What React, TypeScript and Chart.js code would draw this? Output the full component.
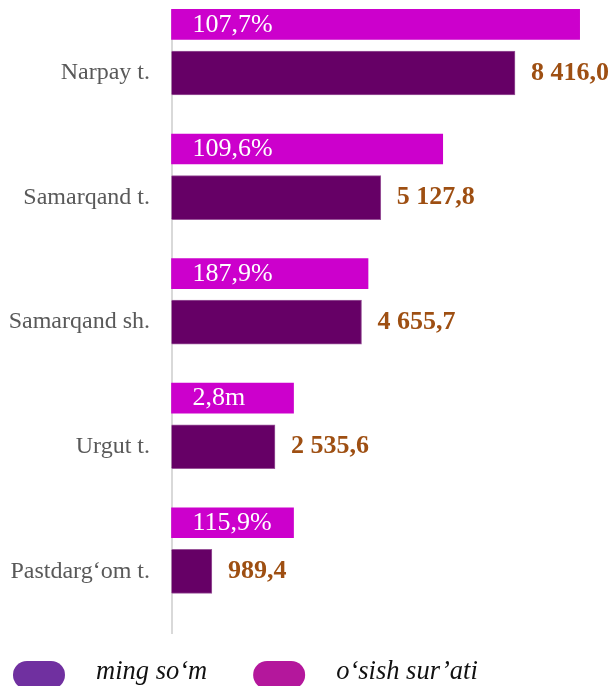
import React, { useEffect, useRef } from "react";
import { Chart, registerables } from "chart.js";

Chart.register(...registerables);

const categories = ["Narpay t.", "Samarqand t.", "Samarqand sh.", "Urgut t.", "Pastdarg‘om t."];
const amountValues = [8416.0, 5127.8, 4655.7, 2535.6, 989.4];
const amountLabels = ["8 416,0", "5 127,8", "4 655,7", "2 535,6", "989,4"];
const growthBarValues = [10000, 6645, 4815, 2990, 2990];
const growthLabels = ["107,7%", "109,6%", "187,9%", "2,8m", "115,9%"];
const seriesNames = ["ming so‘m", "o‘sish sur’ati"];
const legendColors = ["#7030A0", "#B4179C"];

const GROWTH_OFFSET = 0.39;
const SERIF = '"Liberation Serif", "Times New Roman", serif';

const labelPlugin = {
  id: "barLabels",
  afterDatasetsDraw(chart: any) {
    const ctx = chart.ctx;
    ctx.save();
    ctx.textAlign = "left";
    ctx.textBaseline = "middle";
    const m0 = chart.getDatasetMeta(0);
    ctx.font = `26px ${SERIF}`;
    ctx.fillStyle = "#FFFFFF";
    m0.data.forEach((bar: any, i: number) => {
      ctx.fillText(growthLabels[i], chart.chartArea.left + 21, bar.y + 0.5);
    });
    const m1 = chart.getDatasetMeta(1);
    ctx.font = `bold 26px ${SERIF}`;
    ctx.fillStyle = "#9E4F12";
    m1.data.forEach((bar: any, i: number) => {
      ctx.fillText(amountLabels[i], bar.x + 16, bar.y);
    });
    ctx.restore();
  },
};

const legendPlugin = {
  id: "customLegend",
  afterDraw(chart: any) {
    const ctx = chart.ctx;
    ctx.save();
    ctx.font = `italic 26.5px ${SERIF}`;
    ctx.textAlign = "left";
    ctx.textBaseline = "alphabetic";
    let x = 13;
    const top = 661;
    const h = 28;
    const w = 52;
    seriesNames.forEach((name, i) => {
      ctx.fillStyle = legendColors[i];
      ctx.beginPath();
      ctx.roundRect(x, top, w, h, 14);
      ctx.fill();
      const tx = x + w + 31;
      ctx.fillStyle = "#111111";
      ctx.fillText(name, tx, 679);
      x = tx + ctx.measureText(name).width + 46;
    });
    ctx.restore();
  },
};

export default function App() {
  const ref = useRef<HTMLCanvasElement | null>(null);
  useEffect(() => {
    document.body.style.margin = "0";
    const canvas = ref.current;
    if (!canvas) return;
    const chart = new Chart(canvas, {
      type: "bar",
      data: {
        datasets: [
          {
            label: seriesNames[1],
            data: growthBarValues.map((v, i) => ({ x: v, y: i - GROWTH_OFFSET })),
            backgroundColor: "#CC00CC",
            borderWidth: 0,
            barThickness: 30,
            grouped: false,
            clip: false as any,
          },
          {
            label: seriesNames[0],
            data: amountValues.map((v, i) => ({ x: v, y: i })),
            backgroundColor: "#660066",
            borderColor: "#9A569A",
            borderWidth: 1,
            barThickness: 44,
            grouped: false,
            clip: false as any,
          },
        ],
      },
      options: {
        indexAxis: "y",
        animation: false,
        responsive: false,
        devicePixelRatio: 1,
        events: [],
        layout: { padding: { top: 10.7, bottom: 52.4, left: 0, right: 34.35 } },
        plugins: {
          legend: { display: false },
          tooltip: { enabled: false },
          title: { display: false },
        },
        scales: {
          x: { type: "linear", min: 0, max: 10000, display: false },
          y: {
            type: "linear",
            offset: false,
            reverse: true,
            min: -0.5,
            max: 4.5,
            afterBuildTicks: (axis: any) => {
              axis.ticks = categories.map((_, i) => ({ value: i }));
            },
            afterFit: (axis: any) => {
              axis.width = 171.5;
              axis.paddingTop = 0;
              axis.paddingBottom = 0;
            },
            grid: { display: false, drawTicks: true, tickLength: 0 },
            border: { display: true, color: "#D9D9D9", width: 2 },
            ticks: {
              autoSkip: false,
              padding: 21.5,
              color: "#595959",
              font: { family: SERIF, size: 24 },
              callback: (v: any) => categories[v as number] ?? "",
            },
          },
        },
      } as any,
      plugins: [labelPlugin, legendPlugin],
    });
    return () => chart.destroy();
  }, []);
  return (
    <div style={{ width: 614, height: 686 }}>
      <canvas ref={ref} width={614} height={686} style={{ display: "block" }} />
    </div>
  );
}
